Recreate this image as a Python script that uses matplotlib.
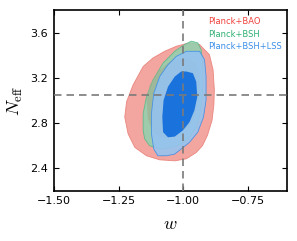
import numpy as np
import matplotlib
matplotlib.use("Agg")
import matplotlib.pyplot as plt
from matplotlib.patches import Polygon

# contour outlines, (w, N_eff)
bao_w_outer = [-0.937, -0.899, -0.885, -0.880, -0.882, -0.889, -0.907, -0.926, -0.950, -0.988,
               -1.033, -1.091, -1.142, -1.187, -1.213, -1.226, -1.219, -1.194, -1.155, -1.117,
               -1.072, -1.027, -0.976]
bao_n_outer = [3.495, 3.405, 3.271, 3.091, 2.957, 2.822, 2.688, 2.598, 2.538, 2.482,
               2.464, 2.473, 2.509, 2.583, 2.703, 2.852, 2.987, 3.136, 3.300, 3.376,
               3.435, 3.480, 3.510]

bsh_w_outer = [-1.155, -1.155, -1.142, -1.117, -1.078, -1.033, -0.995, -0.969, -0.944, -0.931,
               -0.925, -0.925, -0.927, -0.935, -0.950, -0.976, -1.008, -1.046, -1.091, -1.130,
               -1.149]
bsh_n_outer = [2.733, 2.883, 3.031, 3.181, 3.331, 3.435, 3.495, 3.525, 3.510, 3.450,
               3.331, 3.181, 3.031, 2.883, 2.762, 2.673, 2.613, 2.583, 2.569, 2.598,
               2.658]
bsh_w_inner = [-0.995, -0.953, -0.937, -0.937, -0.953, -0.983, -1.026, -1.080, -1.118, -1.137,
               -1.141, -1.130, -1.099, -1.053]
bsh_n_inner = [3.378, 3.343, 3.226, 3.047, 2.867, 2.751, 2.679, 2.661, 2.715, 2.840,
               3.002, 3.136, 3.253, 3.343]

lss_w_outer = [-0.988, -0.937, -0.918, -0.912, -0.912, -0.922, -0.944, -0.976, -1.008, -1.033,
               -1.065, -1.098, -1.114, -1.123, -1.123, -1.114, -1.091, -1.059, -1.027]
lss_n_outer = [3.435, 3.435, 3.361, 3.211, 3.002, 2.852, 2.718, 2.628, 2.569, 2.524,
               2.509, 2.509, 2.569, 2.703, 2.883, 3.062, 3.211, 3.316, 3.390]
lss_w_inner = [-0.988, -0.963, -0.950, -0.946, -0.957, -0.976, -1.002, -1.033, -1.059, -1.078,
               -1.081, -1.076, -1.059, -1.033, -1.008]
lss_n_inner = [3.256, 3.241, 3.166, 3.031, 2.912, 2.807, 2.733, 2.679, 2.673, 2.718,
               2.852, 3.002, 3.121, 3.211, 3.256]

labels = ["Planck+BAO", "Planck+BSH", "Planck+BSH+LSS"]
label_colors = ["#f0413c", "#2fb072", "#3a8ee8"]

w_ref = -1.0
neff_ref = 3.046

plt.rcParams["mathtext.fontset"] = "cm"

fig = plt.figure(figsize=(2.97, 2.41), dpi=100)
ax = fig.add_axes([0.181, 0.209, 0.785, 0.749])

def fill(wv, nv, face, edge, alpha, z):
    poly = Polygon(np.column_stack([wv, nv]), closed=True, facecolor=face,
                   edgecolor=edge, alpha=alpha, lw=0.6, zorder=z)
    ax.add_patch(poly)

fill(bao_w_outer, bao_n_outer, "#f2978f", "#e87a72", 0.85, 1)
fill(bsh_w_outer, bsh_n_outer, "#8fd2ae", "#52b886", 0.85, 2)
fill(bsh_w_inner, bsh_n_inner, "#9eae90", "none", 0.6, 3)
fill(lss_w_outer, lss_n_outer, "#96c3f0", "#3f8ee6", 0.9, 4)
fill(lss_w_inner, lss_n_inner, "#1a72dc", "none", 1.0, 5)

ax.axvline(w_ref, color="#7a7a7a", lw=1.2, ls=(0, (4.5, 3)), zorder=10)
ax.axhline(neff_ref, color="#7a7a7a", lw=1.2, ls=(0, (4.5, 3)), zorder=10)

ax.set_xlim(-1.5, -0.6)
ax.set_ylim(2.2, 3.8)
ax.set_xticks([-1.5, -1.25, -1.0, -0.75])
ax.set_yticks([2.4, 2.8, 3.2, 3.6])
ax.tick_params(direction="in", top=True, right=True, length=3.5, width=0.8,
               labelsize=8, pad=4)
for s in ax.spines.values():
    s.set_linewidth(1.2)

ax.set_xlabel(r"$w$", fontsize=13, labelpad=6)
ax.set_ylabel(r"$N_{\rm eff}$", fontsize=13, labelpad=4)

for i, (lab, c) in enumerate(zip(labels, label_colors)):
    ax.text(0.66, 0.935 - i * 0.068, lab, color=c, fontsize=6.0,
            transform=ax.transAxes, va="center", ha="left", zorder=12)

fig.savefig("out.png", dpi=100)
